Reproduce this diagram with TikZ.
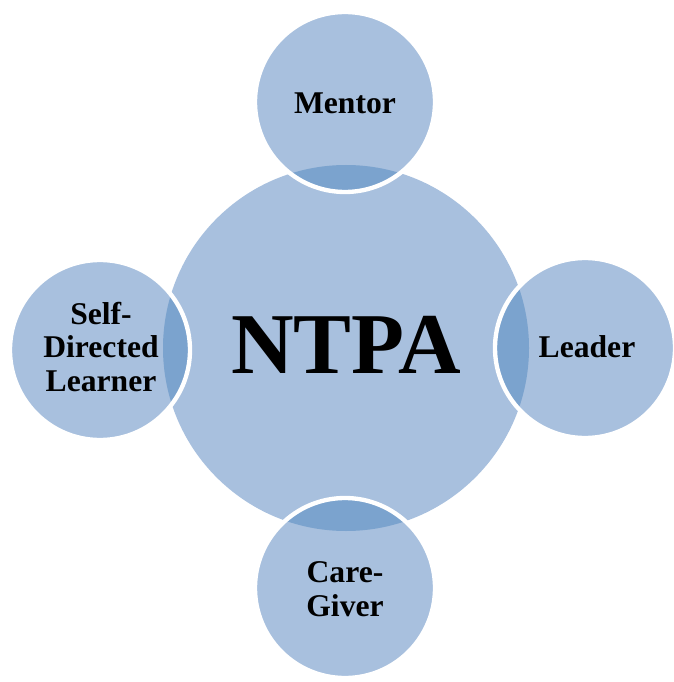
\documentclass[tikz,border=0pt]{standalone}
\usepackage{fontspec}
\setmainfont{Liberation Serif}
\definecolor{rolelight}{HTML}{A8C0DE}
\definecolor{roledark}{HTML}{7BA3CE}
\tikzset{
  rolelabel/.style={font=\fontsize{27}{29}\selectfont\bfseries, align=center, text=black},
  roleedge/.style={draw=white, line width=1.3mm}
}
\def\rolecircle(#1,#2){%
  \fill[rolelight] (#1,#2) circle (90);
  \begin{scope}
    \clip (346,348) circle (183);
    \fill[roledark] (#1,#2) circle (90);
  \end{scope}
  \draw[roleedge] (#1,#2) circle (90);
}
\begin{document}
\begin{tikzpicture}[x=0.03cm, y=-0.03cm]
			%%%%% START %%%%%
			\useasboundingbox (0,0) rectangle (673,682);
			
			\fill[rolelight] (346,348) circle (183);
			
			\rolecircle(345,102)
			\rolecircle(585,348)
			\rolecircle(100,350)
			\rolecircle(345,588)
			
			\node[font=\fontsize{74}{74}\selectfont\bfseries] (ntpa) at (346,345) {NTPA};
			
			\node[rolelabel] (mentor) at (345,103) {Mentor};
			\node[rolelabel] (leader) at (587,347) {Leader};
			\node[rolelabel] (learner) at (101,347) {Self-\\Directed\\Learner};
			\node[rolelabel] (caregiver) at (345,589) {Care-\\Giver};
			
			%%%%% END %%%%%
		\end{tikzpicture}
\end{document}
